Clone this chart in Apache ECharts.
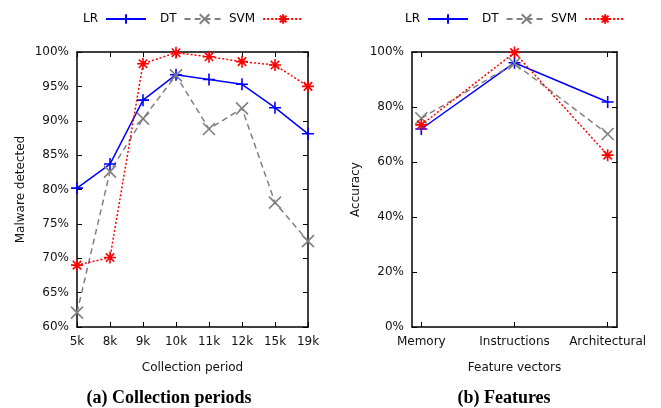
<!DOCTYPE html>
<html>
<head>
<meta charset="utf-8">
<script src="https://cdn.jsdelivr.net/npm/echarts@6/dist/echarts.min.js"></script>
<style>
  html, body { margin: 0; padding: 0; background: #fff; }
  #chart { width: 661px; height: 408px; }
</style>
</head>
<body>
<div id="chart"></div>
<script>
// (a) detection rate per collection period
const periods = ['5k', '8k', '9k', '10k', '11k', '12k', '15k', '19k'];
const periodLR  = [80.2, 83.7, 93.0, 96.7, 96.0, 95.3, 91.9, 88.1];
const periodDT  = [62.1, 82.6, 90.3, 96.6, 88.8, 91.8, 78.1, 72.5];
const periodSVM = [69.0, 70.1, 98.3, 99.9, 99.3, 98.6, 98.1, 95.0];
const periodTicks = [60, 65, 70, 75, 80, 85, 90, 95, 100];

// (b) accuracy per feature vector
const features = ['Memory', 'Instructions', 'Architectural'];
const featureLR  = [72.0, 96.1, 81.8];
const featureDT  = [75.9, 95.8, 70.2];
const featureSVM = [73.5, 99.8, 62.5];
const featureTicks = [0, 20, 40, 60, 80, 100];

const classifiers = ['LR', 'DT', 'SVM'];

const FONT = 'DejaVu Sans';
const BLUE = '#0000ff', GRAY = '#808080', RED = '#ff0000';

const plusPath = 'path://M5,0 L5,10 M0,5 L10,5';
const crossPath = 'path://M0,0 L10,10 M10,0 L0,10';
const starPath = 'path://M5,0 L5,10 M0,5 L10,5 M1.5,1.5 L8.5,8.5 M8.5,1.5 L1.5,8.5';

const styles = {
  LR:  { color: BLUE, type: 'solid',  symbol: plusPath },
  DT:  { color: GRAY, type: [6, 4],   symbol: crossPath },
  SVM: { color: RED,  type: [2, 2],   symbol: starPath }
};

function makeSeries(name, data, xi, yi) {
  const s = styles[name];
  return {
    name: name,
    type: 'line',
    xAxisIndex: xi,
    yAxisIndex: yi,
    data: data,
    symbol: s.symbol,
    symbolSize: 12,
    showAllSymbol: true,
    lineStyle: { color: s.color, width: 1.5, type: s.type },
    itemStyle: { color: 'transparent', borderColor: s.color, borderWidth: 1.6 },
    emphasis: { disabled: true },
    animation: false
  };
}

// one key entry per legend box, text first then line sample
const legendLeft = [83, 160, 229, 405, 482, 551];
function makeLegend(name, left) {
  return {
    left: left, top: 13, padding: 0, align: 'right',
    itemWidth: 40, itemHeight: 12,
    textStyle: { fontFamily: FONT, fontSize: 12, color: '#000', padding: [0, 3, 0, 0] },
    data: [name], selectedMode: false
  };
}

const axisLine = { show: true, onZero: false, lineStyle: { color: '#000', width: 1.5 } };
const tickIn = { show: true, inside: true, length: 5, lineStyle: { color: '#000', width: 1 } };
const labelStyle = { color: '#111', fontFamily: FONT, fontSize: 12 };

const featIdx = features.map((_, i) => i);
const pair = arr => arr.map((v, i) => [i, v]);

const titleStyle = { fontFamily: 'Liberation Serif', fontWeight: 'bold', fontSize: 18, color: '#000' };

const option = {
  backgroundColor: '#fff',
  animation: false,
  textStyle: { fontFamily: FONT },
  legend: classifiers.map((n, i) => makeLegend(n, legendLeft[i]))
    .concat(classifiers.map((n, i) => makeLegend(n, legendLeft[i + 3]))),
  title: [
    { text: '(a) Collection periods', left: 169, top: 389, padding: 0, textAlign: 'center', textStyle: titleStyle },
    { text: '(b) Features', left: 504, top: 389, padding: 0, textAlign: 'center', textStyle: titleStyle }
  ],
  grid: [
    { left: 77, right: 353, top: 52, bottom: 81 },
    { left: 412, right: 44, top: 52, bottom: 81 }
  ],
  xAxis: [
    {
      gridIndex: 0, type: 'category', data: periods, boundaryGap: false, position: 'bottom',
      axisLine: axisLine, axisTick: tickIn,
      axisLabel: Object.assign({ margin: 9, interval: 0 }, labelStyle),
      splitLine: { show: false },
      name: 'Collection period', nameLocation: 'middle', nameGap: 35,
      nameTextStyle: labelStyle
    },
    {
      gridIndex: 0, type: 'category', data: periods, boundaryGap: false, position: 'top',
      axisLine: axisLine, axisTick: tickIn, axisLabel: { show: false }, splitLine: { show: false }
    },
    {
      gridIndex: 1, type: 'value', min: -0.1, max: 2.1, position: 'bottom',
      axisLine: axisLine,
      axisTick: Object.assign({ customValues: featIdx }, tickIn),
      axisLabel: Object.assign({
        margin: 9, customValues: featIdx,
        formatter: v => features[Math.round(v)] || ''
      }, labelStyle),
      splitLine: { show: false },
      name: 'Feature vectors', nameLocation: 'middle', nameGap: 35,
      nameTextStyle: labelStyle
    },
    {
      gridIndex: 1, type: 'value', min: -0.1, max: 2.1, position: 'top',
      axisLine: axisLine,
      axisTick: Object.assign({ customValues: featIdx }, tickIn),
      axisLabel: { show: false }, splitLine: { show: false }
    }
  ],
  yAxis: [
    {
      gridIndex: 0, type: 'value', min: periodTicks[0], max: periodTicks[periodTicks.length - 1],
      interval: periodTicks[1] - periodTicks[0], position: 'left',
      axisLine: axisLine, axisTick: tickIn,
      axisLabel: Object.assign({ margin: 8, formatter: '{value}%' }, labelStyle),
      splitLine: { show: false },
      name: 'Malware detected', nameLocation: 'middle', nameGap: 50, nameRotate: 90,
      nameTextStyle: labelStyle
    },
    {
      gridIndex: 0, type: 'value', min: periodTicks[0], max: periodTicks[periodTicks.length - 1],
      interval: periodTicks[1] - periodTicks[0], position: 'right',
      axisLine: axisLine, axisTick: tickIn, axisLabel: { show: false }, splitLine: { show: false }
    },
    {
      gridIndex: 1, type: 'value', min: featureTicks[0], max: featureTicks[featureTicks.length - 1],
      interval: featureTicks[1] - featureTicks[0], position: 'left',
      axisLine: axisLine, axisTick: tickIn,
      axisLabel: Object.assign({ margin: 8, formatter: '{value}%' }, labelStyle),
      splitLine: { show: false },
      name: 'Accuracy', nameLocation: 'middle', nameGap: 50, nameRotate: 90,
      nameTextStyle: labelStyle
    },
    {
      gridIndex: 1, type: 'value', min: featureTicks[0], max: featureTicks[featureTicks.length - 1],
      interval: featureTicks[1] - featureTicks[0], position: 'right',
      axisLine: axisLine, axisTick: tickIn, axisLabel: { show: false }, splitLine: { show: false }
    }
  ],
  series: [
    makeSeries('LR', periodLR, 0, 0),
    makeSeries('DT', periodDT, 0, 0),
    makeSeries('SVM', periodSVM, 0, 0),
    makeSeries('LR', pair(featureLR), 2, 2),
    makeSeries('DT', pair(featureDT), 2, 2),
    makeSeries('SVM', pair(featureSVM), 2, 2)
  ]
};

const chart = echarts.init(document.getElementById('chart'), null, { renderer: 'canvas' });
chart.setOption(option);
</script>
</body>
</html>
